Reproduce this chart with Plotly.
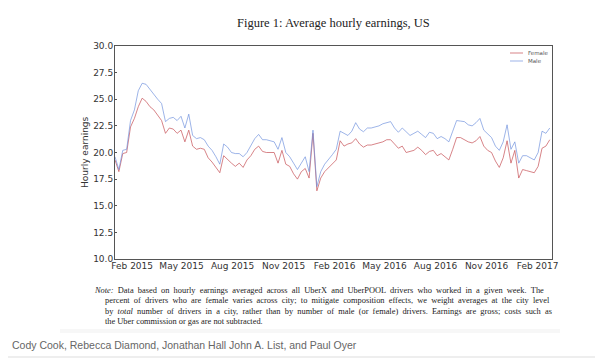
import pandas as pd
import plotly.graph_objects as go

weeks = pd.date_range("2015-01-01", periods=113, freq="7D")

female = [19.3, 18.2, 19.9, 20.0, 22.4, 23.2, 24.3, 25.1, 24.8, 24.3,
          24.0, 23.5, 23.0, 21.8, 22.3, 22.2, 21.8, 22.1, 21.0, 22.1,
          20.6, 20.3, 20.4, 20.3, 19.5, 19.1, 18.6, 18.1, 19.7, 19.3,
          19.0, 18.7, 19.0, 18.6, 19.3, 19.7, 20.3, 20.6, 20.1, 20.0,
          20.0, 20.0, 19.0, 20.2, 18.9, 18.7, 18.0, 17.5, 18.2, 18.5,
          17.6, 21.8, 16.4, 17.6, 18.2, 18.6, 19.0, 19.3, 21.1, 20.6,
          20.8, 20.9, 21.3, 20.8, 20.5, 20.7, 20.7, 20.8, 20.9, 21.0,
          21.2, 21.2, 20.8, 20.4, 20.6, 20.0, 20.1, 20.2, 20.5, 20.2,
          19.8, 20.1, 20.2, 19.7, 19.9, 19.6, 19.3, 20.3, 21.4, 21.4,
          21.2, 21.0, 20.9, 21.1, 21.5, 20.6, 20.2, 20.0, 19.2, 18.6,
          19.5, 21.1, 19.0, 20.2, 17.6, 18.4, 18.3, 18.2, 18.1, 18.7,
          20.4, 20.6, 21.2]

male = [19.6, 18.4, 20.2, 20.3, 23.0, 24.0, 25.8, 26.5, 26.4, 25.9,
        25.4, 25.0, 24.6, 22.9, 23.2, 23.3, 23.0, 23.4, 22.3, 23.6,
        21.6, 21.3, 21.4, 21.2, 20.6, 20.2, 19.6, 18.9, 20.8, 20.5,
        20.0, 19.9, 19.9, 19.6, 20.0, 20.6, 21.3, 21.7, 21.2, 21.2,
        21.1, 21.0, 20.3, 21.4, 20.0, 19.6, 19.0, 18.4, 19.0, 19.6,
        18.2, 22.1, 16.8, 18.2, 18.9, 19.3, 19.8, 20.3, 22.0, 21.8,
        21.6, 22.0, 22.8, 22.2, 21.95, 22.3, 22.3, 22.4, 22.5, 22.7,
        22.8, 22.9, 22.3, 21.9, 22.3, 21.9, 21.6, 21.8, 22.0, 21.7,
        21.4, 21.9, 21.8, 21.3, 21.5, 21.3, 21.0, 22.0, 23.0, 22.95,
        22.9, 22.6, 22.5, 22.8, 23.2, 22.1, 21.7, 21.4, 20.6, 20.2,
        21.0, 22.6, 20.3, 21.0, 19.0, 19.7, 19.7, 19.5, 19.3, 20.0,
        22.0, 21.8, 22.3]

series_names = ["Female", "Male"]
series_colors = ["rgba(200,85,90,0.72)", "rgba(105,140,220,0.65)"]

y_ticks = [10.0, 12.5, 15.0, 17.5, 20.0, 22.5, 25.0, 27.5, 30.0]

title_text = "Figure 1: Average hourly earnings, US"
y_title = "Hourly earnings"
note_lines = [
    "<i>Note:</i>  Data based on hourly earnings averaged across all UberX and UberPOOL drivers who worked in a given week. The",
    "percent of drivers who are female varies across city; to mitigate composition effects, we weight averages at the city level",
    "by <i>total</i> number of drivers in a city, rather than by number of male (or female) drivers. Earnings are gross; costs such as",
    "the Uber commission or gas are not subtracted.",
]
caption = "Cody Cook, Rebecca Diamond, Jonathan Hall John A. List, and Paul Oyer"

# page offset (browser body margin) and plot area in page pixels
OFF = 8
L, R, T, B = 115, 552, 46, 259
PW, PH = R - L, B - T
FW, FH = 603 - OFF, 360 - OFF


def px(x):
    return (x - L) / PW


def py(y):
    return (B - y) / PH


fig = go.Figure()
for name, vals, col in zip(series_names, [female, male], series_colors):
    fig.add_trace(go.Scatter(x=weeks, y=vals, mode="lines", name=name,
                             line=dict(color=col, width=1)))

axis_font = dict(family="DejaVu Sans", size=9, color="#333")
fig.update_layout(
    width=FW, height=FH,
    margin=dict(l=L - OFF, r=603 - R, t=T - OFF, b=360 - B),
    paper_bgcolor="white", plot_bgcolor="white",
    showlegend=False,
    xaxis=dict(
        range=[weeks[0], weeks[-1] + pd.Timedelta(days=4)],
        tickformat="%b %Y", dtick="M3", tick0="2015-02-01",
        showline=True, linecolor="#555", linewidth=1, mirror=True,
        showgrid=False, automargin=False,
        ticks="", tickfont=axis_font, zeroline=False,
        ticklabelstandoff=-2,
    ),
    yaxis=dict(
        range=[10, 30], tickvals=y_ticks, tickformat=".1f",
        showline=True, linecolor="#555", linewidth=1, mirror=True,
        showgrid=False, ticks="inside", ticklen=2, tickcolor="#555",
        tickfont=axis_font, zeroline=False, automargin=False,
        ticklabelstandoff=-1,
    ),
)

fig.add_annotation(text=y_title, xref="paper", yref="paper",
                   x=px(85), y=py(152), showarrow=False, textangle=-90,
                   xanchor="center", yanchor="middle", font=axis_font)

# legend (drawn by hand to match the tight matplotlib spacing)
for i, (name, col) in enumerate(zip(series_names, series_colors)):
    yy = 53 + 8 * i
    fig.add_shape(type="line", xref="paper", yref="paper",
                  x0=px(510), x1=px(523), y0=py(yy), y1=py(yy),
                  line=dict(color=col, width=1))
    fig.add_annotation(text=name, xref="paper", yref="paper",
                       x=px(526), y=py(yy), showarrow=False,
                       xanchor="left", yanchor="middle",
                       font=dict(family="DejaVu Sans", size=5.5, color="#555"))

fig.add_annotation(text=title_text, xref="paper", yref="paper",
                   x=px(333), y=py(23), showarrow=False,
                   xanchor="center", yanchor="middle",
                   font=dict(family="Liberation Serif", size=12.5, color="#222"))

SP = " \u00a0"
note_y = [290, 300.5, 311, 321.5]
note_x = [92, 103, 103, 103]
for k, (txt, yy, xx) in enumerate(zip(note_lines, note_y, note_x)):
    if k < 3:
        txt = txt.replace("  ", " ").replace(" ", SP)
    fig.add_annotation(text=txt, xref="paper", yref="paper",
                       x=px(xx), y=py(yy),
                       showarrow=False, xanchor="left", yanchor="middle",
                       font=dict(family="Liberation Serif", size=8.4, color="#222"))

fig.add_annotation(text=caption, xref="paper", yref="paper",
                   x=px(10), y=py(345),
                   showarrow=False, xanchor="left", yanchor="middle",
                   font=dict(family="Liberation Sans", size=10.5, color="#666"))

fig.add_shape(type="rect", xref="paper", yref="paper",
              x0=px(60), x1=px(560), y0=py(333), y1=py(329),
              line=dict(width=0), fillcolor="rgba(0,0,0,0.03)", layer="below")
fig.add_shape(type="line", xref="paper", yref="paper",
              x0=px(OFF), x1=px(603), y0=py(357), y1=py(357),
              line=dict(color="#ddd", width=1))

fig.write_html("out.html")
